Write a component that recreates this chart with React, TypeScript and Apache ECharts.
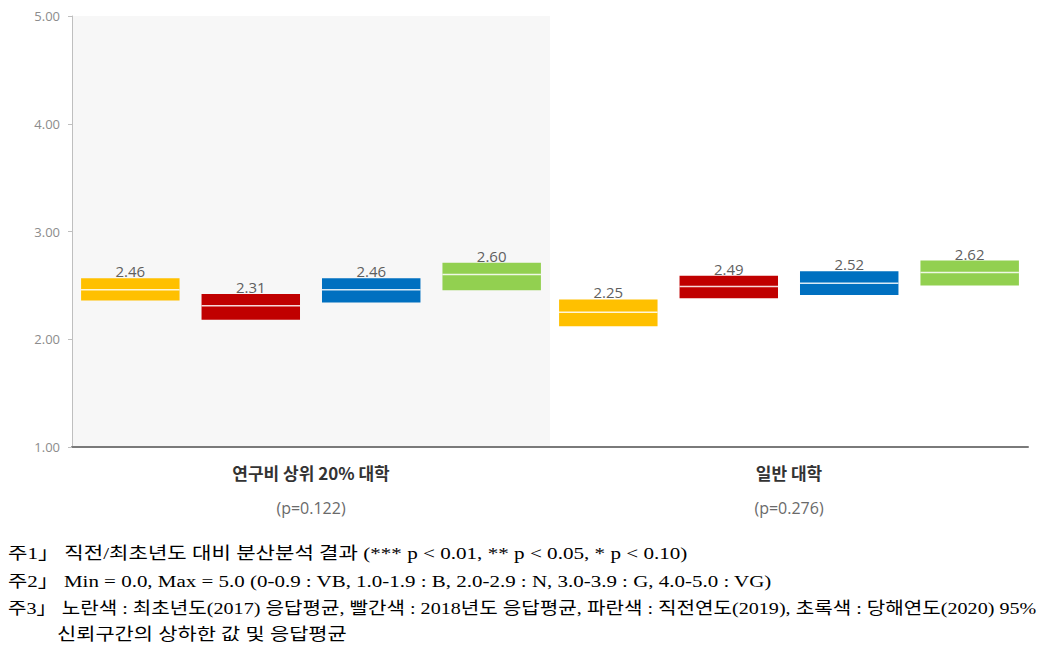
import React, { useEffect, useRef } from "react";
import * as echarts from "echarts";

const categories = ["연구비 상위 20% 대학", "일반 대학"];
const pValues = ["(p=0.122)", "(p=0.276)"];
const yTicks = [1, 2, 3, 4, 5];

const seriesNames = ["최초년도(2017)", "2018년도", "직전연도(2019)", "당해연도(2020)"];
const seriesColors = ["#FFC000", "#C00000", "#0070C0", "#92D050"];

const yellowLow = [2.36, 2.12];
const yellowMean = [2.46, 2.25];
const yellowHigh = [2.565, 2.37];

const redLow = [2.18, 2.38];
const redMean = [2.31, 2.49];
const redHigh = [2.42, 2.59];

const blueLow = [2.34, 2.41];
const blueMean = [2.46, 2.52];
const blueHigh = [2.565, 2.63];

const greenLow = [2.455, 2.5];
const greenMean = [2.6, 2.62];
const greenHigh = [2.71, 2.73];

const footnotes = [
  "주1」 직전/최초년도 대비 분산분석 결과 (*** p < 0.01, ** p < 0.05, * p < 0.10)",
  "주2」 Min = 0.0, Max = 5.0 (0-0.9 : VB, 1.0-1.9 : B, 2.0-2.9 : N, 3.0-3.9 : G, 4.0-5.0 : VG)",
  "주3」 노란색 : 최초년도(2017) 응답평균, 빨간색 : 2018년도 응답평균, 파란색 : 직전연도(2019), 초록색 : 당해연도(2020) 95%",
  "신뢰구간의 상하한 값 및 응답평균",
];
const footLeft = [8, 8, 8, 57];
const footRight = [688, 772, 1037, 347];
const footY = [553, 581, 608, 634];

const lows = [yellowLow, redLow, blueLow, greenLow];
const means = [yellowMean, redMean, blueMean, greenMean];
const highs = [yellowHigh, redHigh, blueHigh, greenHigh];

const FOOT_FONT = "17px 'Liberation Serif', 'Noto Sans CJK KR', serif";

export default function App() {
  const ref = useRef<HTMLDivElement>(null);
  useEffect(() => {
    if (!ref.current) return;
    const chart = echarts.init(ref.current, null, { renderer: "svg" });
    const ctx = document.createElement("canvas").getContext("2d") as CanvasRenderingContext2D;
    ctx.font = FOOT_FONT;

    const series = seriesNames.map((name, si) => ({
      type: "custom",
      name,
      data: categories.map((_, ci) => [ci, lows[si][ci], means[si][ci], highs[si][ci]]),
      encode: { x: 0, y: [1, 2, 3] },
      renderItem: (params: any, api: any) => {
        const ci = api.value(0);
        const lo = api.value(1);
        const mn = api.value(2);
        const hi = api.value(3);
        const band = api.size([1, 0])[0];
        const barW = band * 0.206;
        const step = band * 0.252;
        const cx = api.coord([ci, lo])[0] + (si - 1.5) * step;
        const yLo = api.coord([ci, lo])[1];
        const yHi = api.coord([ci, hi])[1];
        const yMn = api.coord([ci, mn])[1];
        return {
          type: "group",
          children: [
            {
              type: "rect",
              shape: { x: cx - barW / 2, y: yHi, width: barW, height: yLo - yHi },
              style: { fill: seriesColors[si] },
            },
            {
              type: "line",
              shape: { x1: cx - barW / 2, y1: yMn, x2: cx + barW / 2, y2: yMn },
              style: { stroke: "rgba(255,255,255,0.85)", lineWidth: 1.5 },
            },
            {
              type: "text",
              x: cx,
              y: yHi - 7,
              style: {
                text: mn.toFixed(2),
                fill: "#5f5f5f",
                font: "15px 'Open Sans', 'Noto Sans', sans-serif",
                align: "center",
                verticalAlign: "middle",
              },
            },
          ],
        };
      },
    }));

    chart.setOption({
      animation: false,
      grid: { left: 72, right: 21, top: 16, bottom: 209, containLabel: false },
      xAxis: {
        type: "category",
        data: categories,
        boundaryGap: true,
        axisLine: { show: true, lineStyle: { color: "#7a7a7a", width: 2 } },
        axisTick: { show: false },
        splitArea: { show: true, areaStyle: { color: ["#f7f7f7", "rgba(255,255,255,0)"] } },
        axisLabel: {
          margin: 8,
          formatter: (v: string, i: number) => `{t|${v}}\n{p|${pValues[i]}}`,
          rich: {
            t: {
              fontFamily: "'Noto Sans CJK KR', sans-serif",
              fontWeight: "bold",
              fontSize: 17,
              color: "#333333",
              lineHeight: 35,
            },
            p: {
              fontFamily: "'Open Sans', 'Noto Sans', sans-serif",
              fontSize: 16,
              color: "#6a6a6a",
              lineHeight: 35,
            },
          },
        },
      },
      yAxis: {
        type: "value",
        min: yTicks[0],
        max: yTicks[yTicks.length - 1],
        interval: 1,
        axisLine: { show: true, lineStyle: { color: "#bfbfbf", width: 1 } },
        axisTick: { show: true, length: 4, lineStyle: { color: "#bfbfbf" } },
        splitLine: { show: false },
        axisLabel: {
          formatter: (v: number) => v.toFixed(2),
          color: "#8c8c8c",
          fontSize: 13,
          fontFamily: "'Open Sans', 'Noto Sans', sans-serif",
          margin: 12,
        },
      },
      series,
      graphic: footnotes.map((t, i) => {
        const w = ctx.measureText(t).width || 1;
        return {
          type: "text",
          x: footLeft[i],
          y: footY[i],
          scaleX: (footRight[i] - footLeft[i]) / w,
          style: {
            text: t,
            fill: "#000000",
            font: FOOT_FONT,
            align: "left",
            verticalAlign: "middle",
          },
        };
      }),
    });
    return () => chart.dispose();
  }, []);
  return (
    <div
      ref={ref}
      style={{ position: "fixed", left: 0, top: 0, width: 1049, height: 656, background: "#ffffff" }}
    />
  );
}
